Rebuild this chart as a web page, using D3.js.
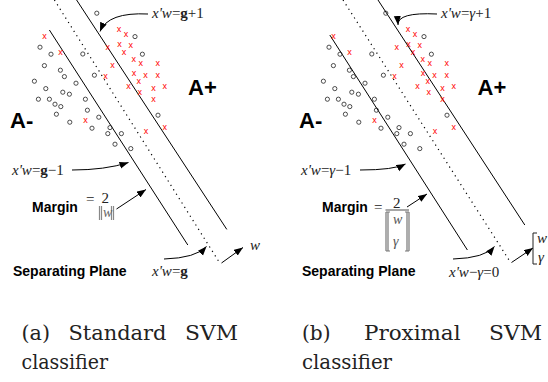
<!DOCTYPE html>
<html>
<head>
<meta charset="utf-8">
<script src="https://cdn.jsdelivr.net/npm/d3@7"></script>
<style>
  body { margin: 0; background: #fff; }
</style>
</head>
<body>
<svg id="fig" width="548" height="382"></svg>
<script>
// muestras en el espacio de entrada (iguales en los dos paneles)
const circles = [
  [48.4,68.4],[67.5,56.7],[20,51.4],[25.5,47.9],[41.4,48],[71.2,47.9],[22.2,42.2],
  [30.2,39.9],[32.2,36.7],[47.2,37.4],[17.2,34.4],[38,33.4],[22.9,30.7],[31.4,28.9],
  [34.7,27.9],[19.2,25.4],[24.7,25.4],[42.7,25.4],[27.5,22.9],[30.4,21.7],[43.7,19.9],
  [28.2,17.9],[49.4,16.4],[79,17.4],[34.9,13.9],[46,10.9],[55,11.2],[53.9,8.2],
  [60.7,8.2],[57.5,2.9],[65.4,0.7]
];
const crosses = [
  [22.2,57],[59.5,60.4],[63,57.9],[30.2,48.9],[53.9,51.4],[59.7,53],[65.4,52.4],
  [62,48.9],[66.9,45.4],[70.4,43.4],[78.9,43.4],[56.2,42.4],[67,38.5],[72.7,37.4],
  [78.9,37.4],[52.7,36.9],[69.4,34.4],[64.2,31.9],[82.4,31.9],[76.7,30.9],[69.9,28.9],
  [76.7,25.4],[42.7,14.9],[82.4,11.4],[73,9.5]
];

// planos: [x1, y1, x2, y2]
const planesA = { lower: [24.7,60,93.9,-47.5], middle: [27.2,75,110,-56.7], upper: [38.3,75,113.4,-39.7] };
const planesB = { lower: [20.4,57.5,89.2,-50], middle: [27,75,110.9,-56.4], upper: [44.5,75,117.9,-37.5] };

const captionA = ['(a)', 'Standard', 'SVM'];
const captionB = ['(b)', 'Proximal', 'SVM'];
const captionLine2 = 'classifier';

const svg = d3.select('#fig');

const defs = svg.append('defs');
defs.append('marker')
  .attr('id', 'arrow')
  .attr('markerUnits', 'userSpaceOnUse')
  .attr('markerWidth', 10).attr('markerHeight', 8)
  .attr('refX', 9).attr('refY', 3.5)
  .attr('orient', 'auto')
  .append('path')
  .attr('d', 'M0,0L9,3.5L0,7z')
  .attr('fill', '#000');

const serif = "'Liberation Serif', 'Times New Roman', serif";
const capSerif = "'DejaVu Serif', serif";
const sans = "'Liberation Sans', Arial, Helvetica, sans-serif";

// etiqueta matematica con partes: [texto, estilo]
function mathLabel(g, x, y, parts, size) {
  const t = g.append('text')
    .attr('x', x).attr('y', y)
    .style('font-family', serif)
    .attr('font-size', size || 14)
    .attr('fill', '#222');
  parts.forEach(p => {
    const s = t.append('tspan').text(p[0]);
    if (p[1] === 'i') s.attr('font-style', 'italic');
    if (p[1] === 'b') s.attr('font-weight', 'bold');
  });
  return t;
}

function arrow(g, pts) {
  const p = d3.path();
  p.moveTo(pts[0][0], pts[0][1]);
  if (pts.length === 3) p.quadraticCurveTo(pts[1][0], pts[1][1], pts[2][0], pts[2][1]);
  else p.lineTo(pts[1][0], pts[1][1]);
  g.append('path')
    .attr('d', p.toString())
    .attr('fill', 'none')
    .attr('stroke', '#000')
    .attr('stroke-width', 1)
    .attr('marker-end', 'url(#arrow)');
}

function bracket(g, x, y1, y2, dir, color, double) {
  const offs = double ? [0, 2] : [0];
  offs.forEach(o => {
    g.append('line')
      .attr('x1', x + o * dir).attr('x2', x + o * dir)
      .attr('y1', y1).attr('y2', y2)
      .attr('stroke', color).attr('stroke-width', double ? 1.2 : 1);
  });
  [y1, y2].forEach(yy => {
    g.append('line')
      .attr('x1', x).attr('x2', x + dir * 4)
      .attr('y1', yy).attr('y2', yy)
      .attr('stroke', color).attr('stroke-width', 1);
  });
}

function drawPanel(x0, planes, proximal) {
  const g = svg.append('g').attr('transform', `translate(${x0},0)`);
  const x = d3.scaleLinear().domain([0, 100]).range([0, 200]);
  const y = d3.scaleLinear().domain([0, 75]).range([150, 0]);

  // planos
  ['lower', 'middle', 'upper'].forEach(k => {
    const l = planes[k];
    g.append('line')
      .attr('x1', x(l[0])).attr('y1', y(l[1]))
      .attr('x2', x(l[2])).attr('y2', y(l[3]))
      .attr('stroke', '#000')
      .attr('stroke-width', k === 'middle' ? 1.2 : 1)
      .attr('stroke-dasharray', k === 'middle' ? '1.2,4' : null);
  });

  // puntos
  g.selectAll('.pt').data(circles).enter().append('circle')
    .attr('cx', d => x(d[0])).attr('cy', d => y(d[1]))
    .attr('r', 2.1)
    .attr('fill', 'none')
    .attr('stroke', '#222')
    .attr('stroke-width', 0.8);

  g.selectAll('.cr').data(crosses).enter().append('text')
    .attr('x', d => x(d[0])).attr('y', d => y(d[1]))
    .attr('dy', '0.3em')
    .attr('text-anchor', 'middle')
    .style('font-family', sans)
    .attr('font-size', 9)
    .attr('fill', '#f00')
    .text('x');

  const gam = proximal ? ['γ', 'i'] : ['g', 'b'];

  // etiquetas de planos
  mathLabel(g, 152, 18, [["x'w", 'i'], ['=', 'r'], gam, ['+1', 'r']], 15);
  arrow(g, [[148, 14], [108, 12], [proximal ? 109 : 100, proximal ? 25 : 31.5]]);

  mathLabel(g, 12, 175, [["x'w", 'i'], ['=', 'r'], gam, ['−1', 'r']], 15);
  arrow(g, [[proximal ? 71 : 72, 170], [105, 170], [proximal ? 116.5 : 128.5, proximal ? 164 : 162.5]]);

  if (proximal) mathLabel(g, 160, 277, [["x'w", 'i'], ['−', 'r'], ['γ', 'i'], ['=0', 'r']], 15);
  else mathLabel(g, 152, 276, [["x'w", 'i'], ['=', 'r'], ['g', 'b']], 15);
  arrow(g, [[164, 259], [196, 258], [proximal ? 205.5 : 206.5, 246.5]]);

  g.append('text').attr('x', 13).attr('y', 276)
    .style('font-family', sans).attr('font-weight', 'bold').attr('font-size', 14)
    .text('Separating Plane');

  // margen
  const mx = proximal ? 33 : 32;
  g.append('text').attr('x', mx).attr('y', 212)
    .style('font-family', sans).attr('font-weight', 'bold').attr('font-size', 14)
    .text('Margin');

  if (proximal) {
    mathLabel(g, 85, 212, [['=', 'r']], 15);
    mathLabel(g, 104, 208, [['2', 'r']], 15);
    g.append('line').attr('x1', 96.5).attr('x2', 120).attr('y1', 210).attr('y2', 210)
      .attr('stroke', '#222').attr('stroke-width', 0.8);
    bracket(g, 97, 212, 251, 1, '#777', true);
    bracket(g, 120, 212, 251, -1, '#777', true);
    mathLabel(g, 104, 224, [['w', 'i']]).attr('fill', '#555');
    mathLabel(g, 104, 246, [['γ', 'i']]).attr('fill', '#555');
    arrow(g, [[118, 207], [138, 194]]);

    // vector normal
    arrow(g, [[222.5, 262.5], [244, 248]]);
    bracket(g, 244, 233, 264, 1, '#222', false);
    mathLabel(g, 248, 243, [['w', 'i']], 15);
    mathLabel(g, 249, 262, [['γ', 'i']], 15);
  } else {
    mathLabel(g, 86, 204, [['=', 'r']], 15);
    mathLabel(g, 101.5, 203, [['2', 'r']], 15);
    [99.5, 101.5].forEach(bx => g.append('line').attr('x1', bx).attr('x2', bx)
      .attr('y1', 206).attr('y2', 220).attr('stroke', '#888').attr('stroke-width', 1.2));
    [111.5, 113.5].forEach(bx => g.append('line').attr('x1', bx).attr('x2', bx)
      .attr('y1', 206).attr('y2', 220).attr('stroke', '#888').attr('stroke-width', 1.2));
    mathLabel(g, 103, 217, [['w', 'i']]).attr('fill', '#666');
    arrow(g, [[116.5, 209], [146, 189.5]]);

    arrow(g, [[221.5, 263], [243, 247.5]]);
    mathLabel(g, 250, 250, [['w', 'i']], 15);
  }

  // clases
  g.append('text').attr('x', proximal ? 188.5 : 188).attr('y', 94.5)
    .style('font-family', sans).attr('font-weight', 'bold').attr('font-size', 22)
    .text('A+');
  g.append('text').attr('x', 10).attr('y', 128)
    .style('font-family', sans).attr('font-weight', 'bold').attr('font-size', 22)
    .text('A-');
}

drawPanel(0, planesA, false);
drawPanel(289, planesB, true);

// pies de figura, justificados
function caption(words, spans, line2, x2, w2) {
  words.forEach((w, i) => {
    svg.append('text')
      .attr('x', spans[i][0]).attr('y', 340)
      .style('font-family', capSerif).attr('font-size', 20)
      .style('font-weight', 300)
      .attr('textLength', spans[i][1] - spans[i][0])
      .attr('lengthAdjust', 'spacingAndGlyphs')
      .attr('fill', '#222')
      .text(w);
  });
  svg.append('text')
    .attr('x', x2).attr('y', 369)
    .style('font-family', capSerif).attr('font-size', 20)
    .style('font-weight', 300)
    .attr('textLength', w2)
    .attr('lengthAdjust', 'spacingAndGlyphs')
    .attr('fill', '#222')
    .text(line2);
}
caption(captionA, [[21.5, 50], [68.5, 166.5], [185, 238]], captionLine2, 21.5, 86.5);
caption(captionB, [[302, 330.5], [364, 460.5], [489, 542]], captionLine2, 302, 90);
</script>
</body>
</html>
